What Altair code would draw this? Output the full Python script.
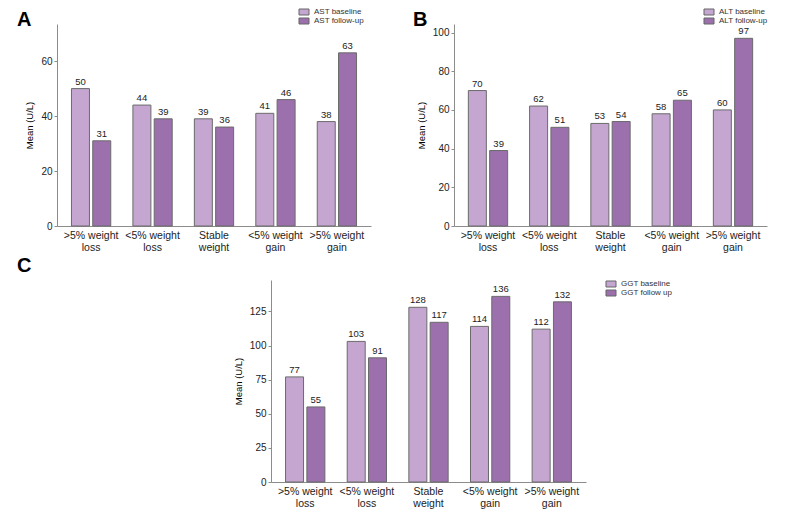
import altair as alt
import pandas as pd

categories = [">5% weight\nloss", "<5% weight\nloss", "Stable\nweight", "<5% weight\ngain", ">5% weight\ngain"]

ast_names = ["AST baseline", "AST follow-up"]
ast_baseline = [50, 44, 39, 41, 38]
ast_followup = [31, 39, 36, 46, 63]

alt_names = ["ALT baseline", "ALT follow-up"]
alt_baseline = [70, 62, 53, 58, 60]
alt_followup = [39, 51, 54, 65, 97]

ggt_names = ["GGT baseline", "GGT follow up"]
ggt_baseline = [77, 103, 128, 114, 112]
ggt_followup = [55, 91, 117, 136, 132]

ast_ticks = [0, 20, 40, 60]
alt_ticks = [0, 20, 40, 60, 80, 100]
ggt_ticks = [0, 25, 50, 75, 100, 125]

LIGHT = "#c4a6d1"
DARK = "#9b70ad"
FONT = "Liberation Sans"
RECT = "M-1.667,-1H1.667V1H-1.667Z"
BAR_W = 18
HALF_GAP = 10.65


def letter_title(letter, dx, dy, offset):
    return alt.TitleParams(letter, anchor="start", frame="group",
                           fontSize=20, fontWeight="bold", font=FONT,
                           color="#000000", baseline="top", offset=offset,
                           dx=dx, dy=dy)


def panel(names, base, follow, ymax, ticks, w, h, legx, legy, title=None):
    df = pd.DataFrame({
        "group": categories * 2,
        "series": [names[0]] * len(categories) + [names[1]] * len(categories),
        "value": base + follow,
    })
    x = alt.X("group:N", sort=categories,
              scale=alt.Scale(type="band", paddingInner=0.36, paddingOuter=0.235),
              axis=alt.Axis(title=None, labelAngle=0, ticks=False,
                            labelExpr="split(datum.label, '\\n')",
                            labelPadding=4, labelFontSize=10.5,
                            labelLineHeight=12.7, labelBaseline="top",
                            labelColor="#222222"))
    y = alt.Y("value:Q",
              scale=alt.Scale(domain=[0, ymax], nice=False, zero=True),
              axis=alt.Axis(title="Mean (U/L)", values=ticks, grid=False,
                            tickSize=3, labelPadding=2, labelFontSize=10,
                            labelColor="#222222", titleFontSize=9.5,
                            titleFontWeight="normal", titlePadding=6,
                            titleColor="#000000"))
    color = alt.Color("series:N", sort=names,
                      scale=alt.Scale(domain=names, range=[LIGHT, DARK]),
                      legend=alt.Legend(title=None, orient="none",
                                        legendX=legx, legendY=legy,
                                        symbolType=RECT, symbolSize=36,
                                        symbolStrokeColor="#666666",
                                        symbolStrokeWidth=1,
                                        labelFontSize=8, labelFont=FONT,
                                        labelColor="#333333",
                                        labelOffset=6, rowPadding=-3))
    basec = alt.Chart(df)
    layers = []
    for name, shift in ((names[0], -HALF_GAP), (names[1], HALF_GAP)):
        sub = basec.transform_filter(alt.datum.series == name)
        layers.append(sub.mark_bar(stroke="#6b6b6b", strokeWidth=1,
                                   width=BAR_W, xOffset=shift).encode(
            x=x, y=y, color=color))
        layers.append(sub.mark_text(baseline="bottom", dy=-2, xOffset=shift,
                                    fontSize=9.5, font=FONT,
                                    color="#222222").encode(
            x=x, y=y, text=alt.Text("value:Q", format="d")))
    layer = alt.layer(*layers).properties(width=w, height=h)
    if title is not None:
        layer = layer.properties(title=title)
    return layer


A = panel(ast_names, ast_baseline, ast_followup, 73.5, ast_ticks,
          314, 202, 243, -16, letter_title("A", -40, 22, 0))
B = panel(alt_names, alt_baseline, alt_followup, 104.4, alt_ticks,
          313, 202, 251, -16, letter_title("B", -41, 22, 0))
C = panel(ggt_names, ggt_baseline, ggt_followup, 148, ggt_ticks,
          315, 202, 336, 0)

c_holder = alt.Chart(pd.DataFrame({"v": [0]})).mark_point(opacity=0).encode(
    x=alt.value(0), y=alt.value(0)
).properties(width=162, height=202, title=letter_title("C", -40, 0, 1))

top = alt.hconcat(A, B, spacing=42).resolve_scale(color="independent").resolve_legend(color="independent")
bottom = alt.hconcat(c_holder, C, spacing=14).resolve_scale(color="independent").resolve_legend(color="independent")
chart = alt.vconcat(top, bottom, spacing=2).resolve_scale(color="independent").resolve_legend(color="independent")

chart = chart.properties(
    padding={"left": 9, "top": 0, "right": 0, "bottom": 0},
    background="white",
).configure_view(stroke=None).configure_axis(
    labelFont=FONT, titleFont=FONT, domainColor="#8c8c8c",
    tickColor="#8c8c8c", domainWidth=1,
)

chart.save("out.html", embed_options={"renderer": "svg", "actions": False})
